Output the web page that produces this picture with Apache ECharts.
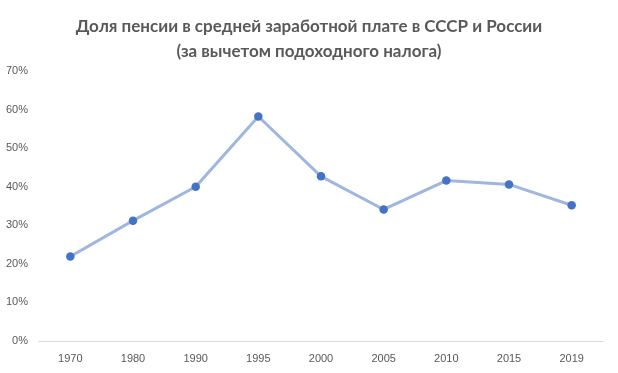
<!DOCTYPE html>
<html><head><meta charset="utf-8">
<script src="https://cdn.jsdelivr.net/npm/echarts@6/dist/echarts.min.js"></script>
<style>html,body{margin:0;padding:0;background:#fff}#c{width:618px;height:373px}</style>
</head><body><div id="c"></div>
<script>
const titleText = 'Доля пенсии в средней заработной плате в СССР и России\n(за вычетом подоходного налога)';
const years = ['1970','1980','1990','1995','2000','2005','2010','2015','2019'];
const shares = [21.9, 31.2, 40.0, 58.2, 42.7, 34.1, 41.6, 40.6, 35.2];
const chart = echarts.init(document.getElementById('c'));
chart.setOption({
  animation: false,
  title: {
    text: titleText, left: 'center', top: 9,
    textStyle: {fontFamily: 'Lato', fontSize: 17, fontWeight: 'bold', color: '#595959', lineHeight: 25}
  },
  grid: {left: 39, right: 15, top: 71, bottom: 32},
  xAxis: {
    type: 'category', data: years, boundaryGap: true,
    axisLine: {lineStyle: {color: '#d9d9d9', width: 1}},
    axisTick: {show: false},
    axisLabel: {color: '#595959', fontSize: 11, fontFamily: 'Liberation Sans', margin: 12}
  },
  yAxis: {
    type: 'value', min: 0, max: 70, interval: 10,
    splitLine: {show: false},
    axisLine: {show: false}, axisTick: {show: false},
    axisLabel: {formatter: '{value}%', color: '#595959', fontSize: 11, fontFamily: 'Liberation Sans', margin: 11}
  },
  series: [{
    type: 'line', data: shares,
    symbol: 'circle', symbolSize: 8.5,
    lineStyle: {color: '#9fb6e1', width: 3},
    itemStyle: {color: '#4472c4'}
  }]
});
</script></body></html>
